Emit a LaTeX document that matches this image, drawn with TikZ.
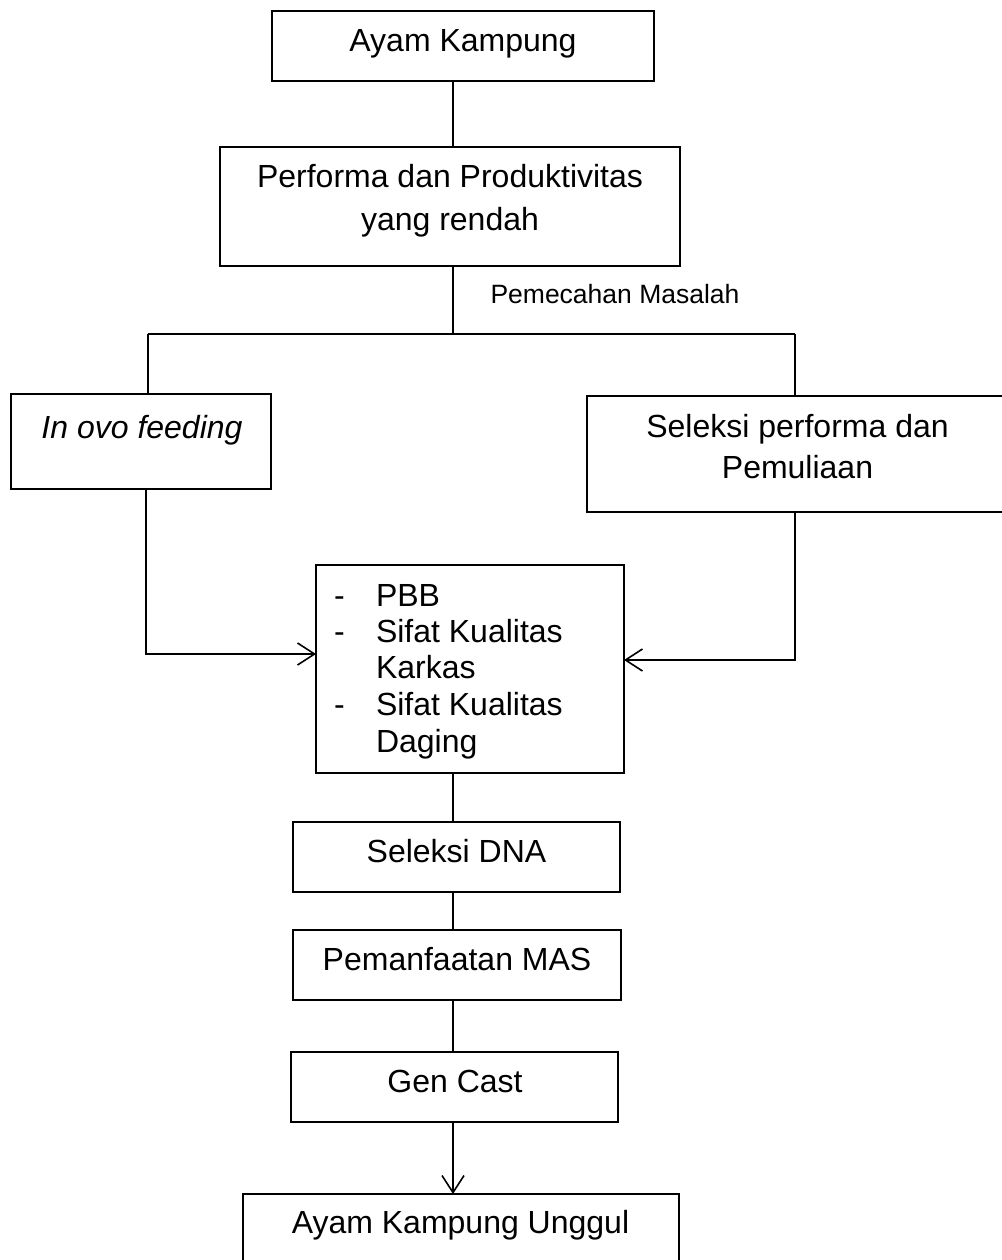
\documentclass[tikz,border=0pt]{standalone}
\usepackage{fontspec}
\setmainfont{Liberation Sans}
\usetikzlibrary{arrows.meta}
\begin{document}
\begin{tikzpicture}[x=1pt,y=-1pt,line width=1.6pt,
  box/.style={draw,line width=1.6pt,inner sep=0pt,outer sep=0pt},
  txt/.style={inner sep=0pt,outer sep=0pt,anchor=base,font=\fontsize{32}{38}\selectfont},
  ltxt/.style={txt,anchor=base west},
  small/.style={inner sep=0pt,outer sep=0pt,anchor=base,font=\fontsize{26.5}{32}\selectfont},
  arr/.style={-{Straight Barb[length=17pt,width=22pt]}}]
\fill[white] (0,0) rectangle (1001,1260);
\useasboundingbox (0,0) rectangle (1001,1260);

% boxes
\node[box,minimum width=382pt,minimum height=70pt] (ak) at (463,46) {};
\node[box,minimum width=460pt,minimum height=119pt] (perf) at (450,206.5) {};
\node[box,minimum width=260pt,minimum height=95pt] (inovo) at (141,441.5) {};
\node[box,minimum width=421pt,minimum height=116pt] (sel) at (797.5,454) {};
\node[box,minimum width=308pt,minimum height=208pt] (mid) at (470,669) {};
\node[box,minimum width=327pt,minimum height=70pt] (dna) at (456.5,857) {};
\node[box,minimum width=328pt,minimum height=70pt] (mas) at (457,965) {};
\node[box,minimum width=327pt,minimum height=70pt] (gen) at (454.5,1087) {};
\node[box,minimum width=436pt,minimum height=72pt] (final) at (461,1230) {};

% texts
\node[txt] (t1) at (463,52) {Ayam Kampung};
\node[txt] (t2a) at (450,188) {Performa dan Produktivitas};
\node[txt] (t2b) at (450,230) {yang rendah};
\node[small] (tpm) at (615,303) {Pemecahan Masalah};
\node[txt] (t3) at (142,438) {\itshape In ovo feeding};
\node[txt] (t4a) at (797.5,437) {Seleksi performa dan};
\node[txt] (t4b) at (797.5,478) {Pemuliaan};
\node[ltxt] (d1) at (334,606) {-};
\node[ltxt] (d2) at (334,642) {-};
\node[ltxt] (d3) at (334,715) {-};
\node[ltxt] (l1) at (376,606) {PBB};
\node[ltxt] (l2) at (376,642) {Sifat Kualitas};
\node[ltxt] (l3) at (376,678) {Karkas};
\node[ltxt] (l4) at (376,715) {Sifat Kualitas};
\node[ltxt] (l5) at (376,752) {Daging};
\node[txt] (t6) at (456.5,862) {Seleksi DNA};
\node[txt] (t7) at (457,970) {Pemanfaatan MAS};
\node[txt] (t8) at (455,1092) {Gen Cast};
\node[txt] (t9) at (460.5,1233) {Ayam Kampung Unggul};

% helper coordinates
\coordinate (cx) at (453,0);
\coordinate (hub) at (453,334);
\coordinate (hl) at (148,334);
\coordinate (hr) at (795,334);
\coordinate (lc) at (146,654);
\coordinate (rc) at (795,660);

% connectors
\draw (ak.south -| cx) -- (perf.north -| cx);
\draw (perf.south -| cx) -- (hub);
\draw (hl) -- (hr);
\draw (hl) -- (inovo.north -| hl);
\draw (hr) -- (sel.north -| hr);
\draw[arr] (inovo.south -| lc) -- (lc) -- (mid.west |- lc);
\draw[arr] (sel.south -| rc) -- (rc) -- (mid.east |- rc);
\draw (mid.south -| cx) -- (dna.north -| cx);
\draw (dna.south -| cx) -- (mas.north -| cx);
\draw (mas.south -| cx) -- (gen.north -| cx);
\draw[arr] (gen.south -| cx) -- (final.north -| cx);
\end{tikzpicture}
\end{document}
